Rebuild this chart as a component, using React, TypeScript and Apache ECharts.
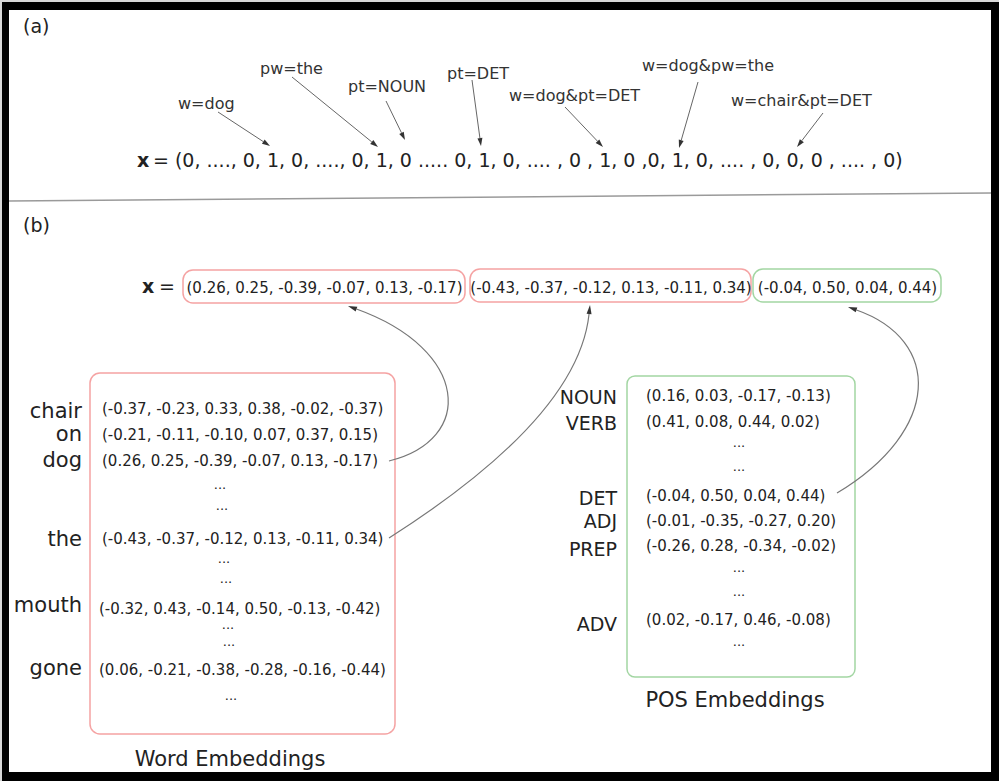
import React, { useEffect, useRef } from "react";
import * as echarts from "echarts";

// ---------- data ----------
const partLabels = ["(a)", "(b)"];
const oneHotText =
  "= (0, ...., 0, 1, 0, ...., 0, 1, 0 ..... 0, 1, 0, .... , 0 , 1, 0 ,0, 1, 0, .... , 0, 0, 0 , .... , 0)";
const featureLabels = [
  "w=dog",
  "pw=the",
  "pt=NOUN",
  "pt=DET",
  "w=dog&pt=DET",
  "w=dog&pw=the",
  "w=chair&pt=DET",
];
const wordLabels = ["chair", "on", "dog", "the", "mouth", "gone"];
const wordVectors = [
  [-0.37, -0.23, 0.33, 0.38, -0.02, -0.37],
  [-0.21, -0.11, -0.1, 0.07, 0.37, 0.15],
  [0.26, 0.25, -0.39, -0.07, 0.13, -0.17],
  [-0.43, -0.37, -0.12, 0.13, -0.11, 0.34],
  [-0.32, 0.43, -0.14, 0.5, -0.13, -0.42],
  [0.06, -0.21, -0.38, -0.28, -0.16, -0.44],
];
const posLabels = ["NOUN", "VERB", "DET", "ADJ", "PREP", "ADV"];
const posVectors = [
  [0.16, 0.03, -0.17, -0.13],
  [0.41, 0.08, 0.44, 0.02],
  [-0.04, 0.5, 0.04, 0.44],
  [-0.01, -0.35, -0.27, 0.2],
  [-0.26, 0.28, -0.34, -0.02],
  [0.02, -0.17, 0.46, -0.08],
];
const chosenWords = ["dog", "the"];
const chosenPos = "DET";
const titles = ["Word Embeddings", "POS Embeddings"];
const ellipsis = "...";

// ---------- layout ----------
const FONT = '"DejaVu Sans", Verdana, sans-serif';
const TXT = "#222";
const PINK = "#f5a3a3";
const GREEN = "#a3d6a3";

// feature label [x, baseline], arrow [x1, y1, tipX, tipY]
const featLayout = [
  [178, 109, 218, 112, 270, 146],
  [260, 74, 292, 77, 378, 147],
  [348, 92, 386, 101, 405, 140],
  [447, 79, 472, 80, 481, 146],
  [509, 101, 565, 107, 603, 147],
  [642, 71, 698, 82, 679, 148],
  [731, 106, 823, 113, 797, 147],
];
// word rows: label baseline, vector baseline, vector x
const wordLayout = [
  [418, 414, 102],
  [441, 440, 102],
  [467, 466, 102],
  [546, 544, 102],
  [612, 614, 99],
  [675, 675, 99],
];
const wordDots = [
  [220, 489],
  [222, 510],
  [224, 563],
  [226, 583],
  [228, 629],
  [229, 646],
  [231, 700],
];
const posLayout = [
  [404, 401],
  [430, 427],
  [505, 501],
  [528, 526],
  [556, 551],
  [631, 625],
];
const posDots = [447, 471, 572, 596, 646];
// concatenated boxes: x, y, w, h, colour
const xBoxes = [
  [183, 270, 282, 33, PINK],
  [470, 269, 281, 33, PINK],
  [753, 269, 188, 33, GREEN],
];
// curves: start, cp1, cp2, tip
const curves = [
  [389, 461, 475, 440, 470, 350, 348, 306],
  [389, 538, 480, 480, 580, 400, 590, 305],
  [837, 493, 942, 430, 942, 340, 848, 307],
];

const fmt = (v: number[]) => "(" + v.map((n) => n.toFixed(2)).join(", ") + ")";

function text(
  s: string,
  x: number,
  baseline: number,
  size: number,
  align = "left",
  weight = "normal",
  fill = TXT
) {
  return {
    type: "text",
    x,
    y: baseline - 0.35 * size,
    silent: true,
    style: {
      text: s,
      fontSize: size,
      fontFamily: FONT,
      fontWeight: weight,
      fill,
      textAlign: align,
      textVerticalAlign: "middle",
    },
  };
}

function arrowHead(tx: number, ty: number, fx: number, fy: number, L: number, W: number, color: string) {
  const dx = tx - fx;
  const dy = ty - fy;
  const d = Math.hypot(dx, dy) || 1;
  const ux = dx / d;
  const uy = dy / d;
  const bx = tx - ux * L;
  const by = ty - uy * L;
  const nx = -uy;
  const ny = ux;
  return {
    head: {
      type: "polygon",
      silent: true,
      shape: {
        points: [
          [tx, ty],
          [bx + (nx * W) / 2, by + (ny * W) / 2],
          [bx - (nx * W) / 2, by - (ny * W) / 2],
        ],
      },
      style: { fill: color },
    },
    bx,
    by,
  };
}

function buildElements() {
  const els: any[] = [];
  // frame
  els.push({ type: "rect", silent: true, shape: { x: 0, y: 0, width: 999, height: 781 }, style: { fill: "#d8d8d8" } });
  els.push({ type: "rect", silent: true, shape: { x: 2, y: 2, width: 997, height: 779 }, style: { fill: "#000" } });
  els.push({ type: "rect", silent: true, shape: { x: 9, y: 10, width: 982, height: 762 }, style: { fill: "#fff" } });
  // separator
  els.push({
    type: "line",
    silent: true,
    shape: { x1: 9, y1: 201, x2: 991, y2: 193 },
    style: { stroke: "#9a9a9a", lineWidth: 1.5 },
  });

  // part labels
  els.push(text(partLabels[0], 23, 33, 19));
  els.push(text(partLabels[1], 23, 232, 19));

  // (a)
  els.push(text("x", 137, 167, 19, "left", "bold"));
  els.push(text(oneHotText, 153, 167, 19));
  featureLabels.forEach((lab, i) => {
    const [lx, lb, x1, y1, tx, ty] = featLayout[i];
    els.push(text(lab, lx, lb, 16, "left", "normal", "#333"));
    const a = arrowHead(tx, ty, x1, y1, 8, 5, "#333");
    els.push({
      type: "line",
      silent: true,
      shape: { x1, y1, x2: a.bx, y2: a.by },
      style: { stroke: "#666", lineWidth: 1 },
    });
    els.push(a.head);
  });

  // (b) concatenated vector
  els.push(text("x", 142, 293, 19, "left", "bold"));
  els.push(text("=", 159, 293, 19));
  const parts = [
    wordVectors[wordLabels.indexOf(chosenWords[0])],
    wordVectors[wordLabels.indexOf(chosenWords[1])],
    posVectors[posLabels.indexOf(chosenPos)],
  ];
  parts.forEach((v, i) => {
    const [bx, by, bw, bh, col] = xBoxes[i] as any[];
    els.push({
      type: "rect",
      silent: true,
      shape: { x: bx, y: by, width: bw, height: bh, r: 10 },
      style: { fill: "none", stroke: col, lineWidth: 1.5 },
    });
    els.push(text(fmt(v), bx + bw / 2 + 0.5, 293, 15, "center"));
  });

  // word embeddings box
  els.push({
    type: "rect",
    silent: true,
    shape: { x: 90, y: 373, width: 305, height: 361, r: 10 },
    style: { fill: "none", stroke: PINK, lineWidth: 1.5 },
  });
  wordLabels.forEach((w, i) => {
    const [lb, vb, vx] = wordLayout[i];
    els.push(text(w, 82, lb, 21, "right"));
    els.push(text(fmt(wordVectors[i]), vx, vb, 15));
  });
  wordDots.forEach(([cx, b]) => els.push(text(ellipsis, cx, b, 13, "center")));
  els.push(text(titles[0], 230, 766, 21, "center"));

  // POS embeddings box
  els.push({
    type: "rect",
    silent: true,
    shape: { x: 627, y: 376, width: 228, height: 301, r: 8 },
    style: { fill: "none", stroke: GREEN, lineWidth: 1.5 },
  });
  posLabels.forEach((p, i) => {
    const [lb, vb] = posLayout[i];
    els.push(text(p, 617, lb, 19, "right"));
    els.push(text(fmt(posVectors[i]), 646, vb, 15));
  });
  posDots.forEach((b) => els.push(text(ellipsis, 739, b, 13, "center")));
  els.push(text(titles[1], 735, 707, 21, "center"));

  // curved arrows
  curves.forEach((c) => {
    const [x1, y1, c1x, c1y, c2x, c2y, tx, ty] = c;
    const a = arrowHead(tx, ty, c2x, c2y, 9, 5, "#333");
    els.push({
      type: "bezierCurve",
      silent: true,
      shape: { x1, y1, cpx1: c1x, cpy1: c1y, cpx2: c2x, cpy2: c2y, x2: a.bx, y2: a.by },
      style: { stroke: "#777", fill: "none", lineWidth: 1.2 },
    });
    els.push(a.head);
  });

  return els;
}

export default function App() {
  const ref = useRef<HTMLDivElement>(null);
  useEffect(() => {
    if (!ref.current) return;
    const chart = echarts.init(ref.current, null, { renderer: "svg" });
    chart.setOption({
      animation: false,
      graphic: { elements: buildElements() },
    });
    return () => chart.dispose();
  }, []);
  return (
    <div
      ref={ref}
      style={{ position: "absolute", left: 0, top: 0, width: 999, height: 781, background: "#fff" }}
    />
  );
}
